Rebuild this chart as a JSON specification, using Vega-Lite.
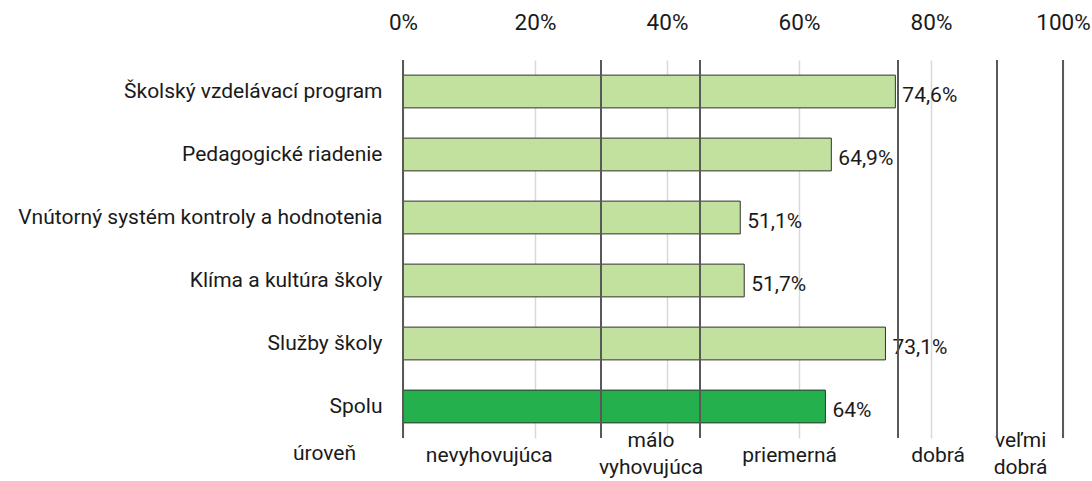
{
  "$schema": "https://vega.github.io/schema/vega-lite/v6.json",
  "width": 660,
  "height": 378,
  "autosize": "none",
  "padding": {"left": 403, "top": 60, "right": 29, "bottom": 43},
  "config": {
    "view": {"stroke": null},
    "font": "Roboto",
    "locale": {"number": {"decimal": ",", "thousands": " ", "grouping": [3], "currency": ["", " €"], "percent": "%"}}
  },
  "datasets": {
    "oblasti": [
      {"oblast": "Školský vzdelávací program", "hodnota": 0.746, "typ": "oblast"},
      {"oblast": "Pedagogické riadenie", "hodnota": 0.649, "typ": "oblast"},
      {"oblast": "Vnútorný systém kontroly a hodnotenia", "hodnota": 0.511, "typ": "oblast"},
      {"oblast": "Klíma a kultúra školy", "hodnota": 0.517, "typ": "oblast"},
      {"oblast": "Služby školy", "hodnota": 0.731, "typ": "oblast"},
      {"oblast": "Spolu", "hodnota": 0.64, "typ": "spolu"}
    ],
    "hranice": [
      {"hranica": 0}, {"hranica": 0.3}, {"hranica": 0.45}, {"hranica": 0.75}, {"hranica": 0.9}, {"hranica": 1}
    ]
  },
  "resolve": {"axis": {"x": "independent"}},
  "layer": [
    {
      "data": {"name": "oblasti"},
      "mark": {"type": "bar", "stroke": "#333333", "strokeWidth": 1},
      "encoding": {
        "y": {
          "field": "oblast", "type": "nominal", "sort": null,
          "scale": {"paddingInner": 0.48, "paddingOuter": 0.24},
          "axis": {"title": null, "domain": false, "ticks": false, "labelPadding": 21, "labelFontSize": 21, "labelColor": "#1a1a1a", "labelLimit": 0}
        },
        "x": {
          "field": "hodnota", "type": "quantitative",
          "scale": {"domain": [0, 1], "nice": false},
          "axis": {"orient": "top", "title": null, "values": [0, 0.2, 0.4, 0.6, 0.8, 1], "format": ".0%", "domain": false, "ticks": false, "tickSize": 0, "labelPadding": 38, "labelBaseline": "middle", "labelFontSize": 22.5, "labelColor": "#1a1a1a", "grid": true, "gridColor": "#d9d9d9", "gridWidth": 1.5, "labelFlush": false}
        },
        "color": {
          "field": "typ", "type": "nominal",
          "scale": {"domain": ["oblast", "spolu"], "range": ["#c2e09e", "#23b04d"]},
          "legend": null
        }
      }
    },
    {
      "data": {"name": "oblasti"},
      "mark": {"type": "text", "align": "left", "baseline": "middle", "dx": 7, "dy": 4, "fontSize": 21, "color": "#1a1a1a"},
      "encoding": {
        "y": {"field": "oblast", "type": "nominal", "sort": null},
        "x": {"field": "hodnota", "type": "quantitative", "axis": null},
        "text": {"field": "hodnota", "type": "quantitative", "format": ".1~%"}
      }
    },
    {
      "data": {"name": "hranice"},
      "mark": {"type": "rule", "color": "#595959", "strokeWidth": 2},
      "encoding": {
        "x": {
          "field": "hranica", "type": "quantitative",
          "axis": {
            "orient": "bottom",
            "title": "úroveň",
            "titleX": -79, "titleY": 15, "titleAlign": "center", "titleBaseline": "middle", "titleFontSize": 21, "titleFontWeight": "normal", "titleColor": "#1a1a1a",
            "values": [0.13, 0.375, 0.585, 0.81, 0.935],
            "labelExpr": "datum.value < 0.2 ? 'nevyhovujúca' : datum.value < 0.5 ? ['málo', 'vyhovujúca'] : datum.value < 0.7 ? 'priemerná' : datum.value < 0.85 ? 'dobrá' : ['veľmi', 'dobrá']",
            "domain": false, "ticks": false, "tickSize": 0, "grid": false,
            "labelPadding": {"condition": {"test": "(datum.value > 0.3 && datum.value < 0.45) || datum.value > 0.9", "value": 2}, "value": 17},
            "labelBaseline": "middle", "labelLineHeight": 27, "labelFontSize": 21, "labelColor": "#1a1a1a", "labelFlush": false, "labelOverlap": false
          }
        }
      }
    }
  ]
}
